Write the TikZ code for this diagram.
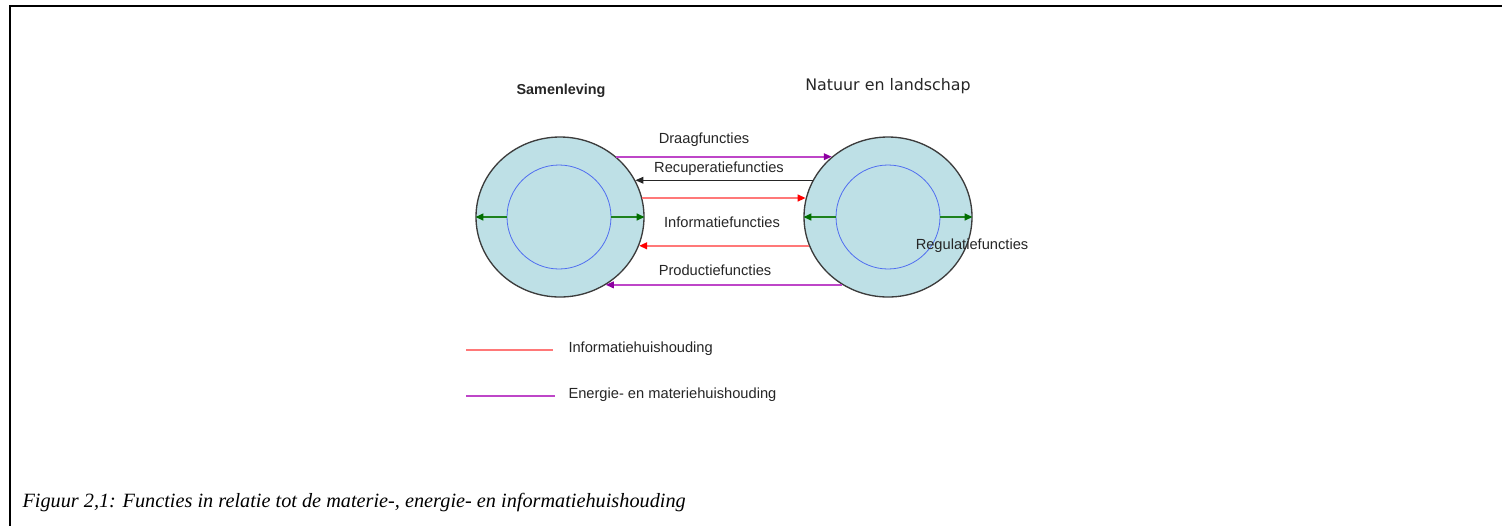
\documentclass[tikz,border=0pt]{standalone}
\usepackage{fontspec}
\setmainfont{Liberation Sans}
\newfontfamily\capfont{Liberation Serif}
\newfontfamily\verdfont{DejaVu Sans}
\usetikzlibrary{arrows.meta,shapes.geometric}

\definecolor{ringfill}{RGB}{190,224,230}
\definecolor{ringdraw}{RGB}{60,60,60}
\definecolor{coreblue}{RGB}{80,110,240}
\definecolor{flowpurple}{RGB}{190,70,200}
\definecolor{tippurple}{RGB}{140,0,160}
\definecolor{flowpink}{RGB}{255,120,120}
\definecolor{flowgreen}{RGB}{30,130,30}
\definecolor{tipgreen}{RGB}{0,110,0}

\tikzset{every picture/.style={line width=0.75pt}}
\tikzset{
  ring/.style={ellipse, draw=ringdraw, fill=ringfill, line width=1pt, minimum width=126pt, minimum height=120pt, inner sep=0pt},
  core/.style={circle, draw=coreblue, line width=0.6pt, minimum size=78pt, inner sep=0pt},
  lbl/.style={inner sep=0.75pt, text=black!85, font=\fontsize{11}{13}\selectfont},
  purpleflow/.style={draw=flowpurple, line width=1.2pt, -{Triangle[length=6pt,width=5pt,color=tippurple]}},
  blackflow/.style={draw=black!85, line width=0.9pt, -{Triangle[length=6pt,width=5pt]}},
  pinkflow/.style={draw=flowpink, line width=1.4pt, -{Triangle[length=6pt,width=5pt,color=red]}},
  greenflow/.style={draw=flowgreen, line width=1.5pt, -{Triangle[length=6pt,width=5pt,color=tipgreen]}}
}

\begin{document}
\begin{tikzpicture}[x=0.75pt,y=0.75pt,yscale=-1,xscale=1]
    \useasboundingbox (0,0) rectangle (1502,526);
    
    %Frame
    \draw [line width=1.5pt] (9,6) -- (1502,6);
    \draw [line width=1.5pt] (10,6) -- (10,526);
    
    %Shape: Circle [samenleving]
    \node [ring] (sam) at (560,217) {};
    \node [core] (samcore) at (559,217) {};
    %Shape: Circle [natuur]
    \node [ring] (nat) at (888,217) {};
    \node [core] (natcore) at (888,217) {};
    
    %Green arrows (regulatie)
    \draw [greenflow] (samcore.west) -- (sam.west);
    \draw [greenflow] (samcore.east) -- (sam.east);
    \draw [greenflow] (natcore.west) -- (nat.west);
    \draw [greenflow] (natcore.east) -- (nat.east);
    
    %Straight Lines between circles
    \draw [purpleflow] (sam.47) -- (nat.133);
    \draw [blackflow] (nat.154) -- (sam.26);
    \draw [pinkflow] (sam.13) -- (nat.167);
    \draw [pinkflow] (nat.-160) -- (sam.-20);
    \draw [purpleflow] (nat.-124) -- (sam.-56);
    
    % Text Node
    \node [lbl, font=\bfseries\fontsize{10.8}{13}\selectfont] (samlbl) at (561,91) {Samenleving};
    % Text Node
    \node [lbl, font=\verdfont\fontsize{11.9}{14}\selectfont] (natlbl) at (888,86) {Natuur en landschap};
    % Text Node
    \node [lbl] (draag) at (704,140) {Draagfuncties};
    % Text Node
    \node [lbl] (recup) at (719,169) {Recuperatiefuncties};
    % Text Node
    \node [lbl] (info) at (722,222) {Informatiefuncties};
    % Text Node
    \node [lbl] (prod) at (715,270) {Productiefuncties};
    % Text Node
    \node [lbl] (regul) at (972,246) {Regulatiefuncties};
    
    %Legend
    \coordinate (infoA) at (466,350);
    \coordinate (infoB) at (553,350);
    \draw [draw=flowpink, line width=0.9pt] (infoA) -- (infoB);
    \node [lbl, anchor=west] (infolgd) at (567,349) {Informatiehuishouding};
    \coordinate (enA) at (466,396);
    \coordinate (enB) at (555,396);
    \draw [draw=flowpurple, line width=1.3pt] (enA) -- (enB);
    \node [lbl, anchor=west] (enlgd) at (567,395) {Energie- en materiehuishouding};
    
    % Caption
    \node [anchor=west, inner sep=0pt, font=\capfont\itshape\fontsize{15.2}{18}\selectfont] (caption) at (22,503) {Figuur 2,1: Functies in relatie tot de materie-, energie- en informatiehuishouding};
    
\end{tikzpicture}
\end{document}
